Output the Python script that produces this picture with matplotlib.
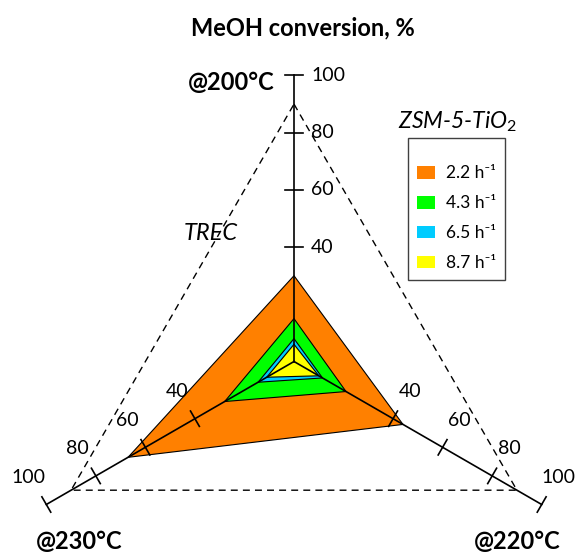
import numpy as np
import matplotlib
matplotlib.use("Agg")
import matplotlib.pyplot as plt
from matplotlib.patches import Patch

# ---- data ------------------------------------------------------------
axis_labels = ["@200°C", "@220°C", "@230°C"]
tick_values = [40, 60, 80, 100]
series_labels = ["2.2 h⁻¹", "4.3 h⁻¹", "6.5 h⁻¹", "8.7 h⁻¹"]
conv_2_2 = [30, 44, 67]
conv_4_3 = [15, 21, 28]
conv_6_5 = [8, 11.5, 14.5]
conv_8_7 = [6, 10, 11]
trec = [90, 90, 90]

# ---- layout -----------------------------------------------------------
W, H = 578, 552
PX = 2.86                 # pixels per % along a spoke
CX, CY = 294, 361.5       # chart centre, pixels from top-left
ANGLES = np.deg2rad([90, -30, 210])
FONT = ["Lato", "DejaVu Sans"]
plt.rcParams["font.family"] = FONT
plt.rcParams["mathtext.fontset"] = "custom"
plt.rcParams["mathtext.it"] = "Lato:italic"
plt.rcParams["mathtext.rm"] = "Lato"


def to_xy(vals):
    vals = np.asarray(vals, float)
    return vals * np.cos(ANGLES), vals * np.sin(ANGLES)


fig = plt.figure(figsize=(W / 100, H / 100), dpi=100)
ax = fig.add_axes([0, 0, 1, 1])
ax.set_xlim(-CX / PX, (W - CX) / PX)
ax.set_ylim(-(H - CY) / PX, CY / PX)
ax.axis("off")

# filled series, largest first
series = [conv_2_2, conv_4_3, conv_6_5, conv_8_7]
colors = ["#FF8000", "#00FF00", "#00CCFF", "#FFFF00"]
for vals, c in zip(series, colors):
    x, y = to_xy(vals)
    ax.fill(x, y, facecolor=c, edgecolor="black", lw=0.8, zorder=2)

# TREC reference triangle
x, y = to_xy(trec)
ax.plot(np.append(x, x[0]), np.append(y, y[0]), color="black", lw=1.0,
        ls=(0, (5, 3.7)), zorder=1)

# spokes, ticks and tick labels
L = 3.1
for k, th in enumerate(ANGLES):
    ux, uy = np.cos(th), np.sin(th)
    ax.plot([0, 100 * ux], [0, 100 * uy], color="black", lw=1.2, zorder=3)
    for v in tick_values:
        px, py = v * ux, v * uy
        ax.plot([px + L * uy, px - L * uy], [py - L * ux, py + L * ux],
                color="black", lw=1.2, zorder=3)
        if k == 0:
            off, ha = (17, 0), "left"
        elif k == 1:
            off, ha = (17, 27), "center"
        else:
            off, ha = (-18, 27), "center"
        ax.annotate(str(v), (px, py), xytext=off, textcoords="offset pixels",
                    ha=ha, va="center", fontsize=14, zorder=4)

# spoke titles
title_kw = dict(textcoords="offset pixels", fontsize=17, fontweight="bold",
                va="center")
ends = list(zip(*to_xy([100, 100, 100])))
ax.annotate(axis_labels[0], ends[0], xytext=(-19, -7), ha="right", **title_kw)
ax.annotate(axis_labels[1], ends[1], xytext=(-24, -37), ha="center", **title_kw)
ax.annotate(axis_labels[2], ends[2], xytext=(33, -37), ha="center", **title_kw)

fig.text(302.5 / W, 1 - 28 / H, "MeOH conversion, %", ha="center",
         va="center", fontsize=17, fontweight="bold")
fig.text(211 / W, 1 - 234 / H, "TREC", ha="center", va="center",
         fontsize=17, style="italic")
fig.text(458 / W, 1 - 122 / H, "ZSM-5-TiO$_{\\mathit{2}}$", ha="center",
         va="center", fontsize=16.5, style="italic")

handles = [Patch(facecolor=c, edgecolor="none", label=l)
           for c, l in zip(colors, series_labels)]
leg = ax.legend(handles=handles, loc="upper left",
                bbox_to_anchor=(407.7 / W, 1 - 138.3 / H),
                bbox_transform=fig.transFigure, borderaxespad=0,
                fontsize=12.5, title=" ", title_fontsize=2.5,
                handlelength=1.07, handleheight=0.75, handletextpad=0.58,
                labelspacing=0.8, borderpad=0.53, fancybox=False,
                framealpha=1, edgecolor="#404040")
leg.get_frame().set_linewidth(1.0)

fig.savefig("out.png", dpi=100)
